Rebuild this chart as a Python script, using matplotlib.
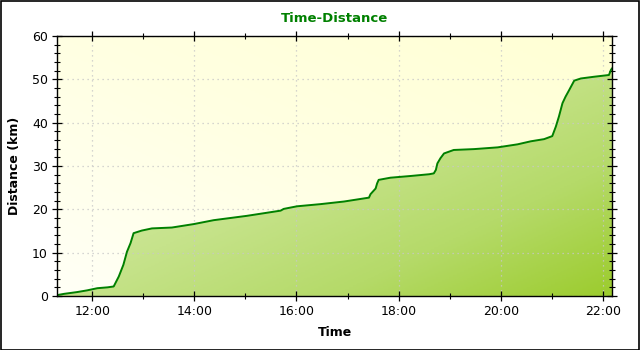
import numpy as np
import matplotlib
matplotlib.use("Agg")
import matplotlib.pyplot as plt
from matplotlib.colors import LinearSegmentedColormap
from matplotlib.patches import Rectangle
from matplotlib.ticker import MultipleLocator

# time in decimal hours, distance in km
hours = [11.31, 11.45, 11.70, 11.90, 12.10, 12.30, 12.42, 12.52, 12.61, 12.68,
         12.75, 12.81, 12.97, 13.17, 13.56, 13.99, 14.38, 15.03, 15.69, 15.75,
         16.01, 16.47, 16.93, 17.42, 17.45, 17.55, 17.58, 17.61, 17.84, 18.24,
         18.60, 18.69, 18.73, 18.76, 18.82, 18.89, 19.08, 19.48, 19.94, 20.33,
         20.59, 20.85, 21.01, 21.08, 21.14, 21.21, 21.27, 21.34, 21.44, 21.57,
         21.83, 22.12, 22.16, 22.18]
dist_km = [0.2, 0.5, 0.9, 1.3, 1.8, 2.0, 2.2, 4.5, 7.2, 10.2,
           12.2, 14.5, 15.1, 15.6, 15.8, 16.6, 17.5, 18.5, 19.7, 20.1,
           20.7, 21.2, 21.8, 22.7, 23.5, 24.8, 26.0, 26.8, 27.3, 27.7,
           28.1, 28.3, 29.1, 30.6, 31.8, 32.9, 33.7, 33.9, 34.3, 35.0,
           35.7, 36.2, 36.9, 39.1, 41.4, 44.5, 46.0, 47.5, 49.7, 50.2,
           50.6, 51.0, 52.2, 52.5]

x_ticks = [12, 14, 16, 18, 20, 22]
x_ticklabels = ["12:00", "14:00", "16:00", "18:00", "20:00", "22:00"]
y_ticks = [0, 10, 20, 30, 40, 50, 60]

x_min, x_max = 11.31, 22.18
y_min, y_max = 0, 60

fig = plt.figure(figsize=(6.4, 3.5), dpi=100, facecolor="white")
ax = fig.add_axes([57 / 640, 54 / 350, 555 / 640, 260 / 350])

# gradients along the corner-to-corner diagonal of the plot box
gx, gy = np.meshgrid(np.linspace(0, 1, 300), np.linspace(0, 1, 150))
diag_t = (gx + gy) / 2   # image row 0 is the top: 0 top-left -> 1 bottom-right

# background: near white bottom-left, light yellow top-right
bg_cmap = LinearSegmentedColormap.from_list("bg", ["#fffff6", "#ffffe2", "#ffffd4"])
ax.imshow(diag_t[::-1], cmap=bg_cmap, extent=[x_min, x_max, y_min, y_max],
          aspect="auto", zorder=0, vmin=0, vmax=1)

# area fill with green gradient, clipped to the area under the line
poly = ax.fill_between(hours, dist_km, 0, color="none", zorder=1)
fill_cmap = LinearSegmentedColormap.from_list(
    "fill", [(0.0, "#e6f3c8"), (0.5, "#c6e38b"), (0.75, "#b5da69"),
             (1.0, "#9ccc2e")])
im = ax.imshow(diag_t, cmap=fill_cmap, extent=[x_min, x_max, y_min, y_max],
               aspect="auto", zorder=1, vmin=0, vmax=1)
im.set_clip_path(poly.get_paths()[0], transform=ax.transData)

ax.plot(hours, dist_km, color="#008000", lw=1.4, zorder=3)

ax.set_xlim(x_min, x_max)
ax.set_ylim(y_min, y_max)
ax.set_xticks(x_ticks)
ax.set_xticklabels(x_ticklabels)
ax.set_yticks(y_ticks)
ax.xaxis.set_minor_locator(MultipleLocator(1))
ax.yaxis.set_minor_locator(MultipleLocator(2))

# dotted grid sits behind the filled area
ax.grid(True, which="major", color="#c8c8c8", linestyle=(0, (1, 3)), lw=0.9)
for gl in ax.get_xgridlines() + ax.get_ygridlines():
    gl.set_zorder(0.5)

ax.tick_params(which="major", direction="inout", length=7, width=0.9,
               top=True, right=True, labelsize=9, colors="black", pad=3)
ax.tick_params(which="minor", direction="inout", length=5, width=0.8,
               top=True, right=True)
for sp in ax.spines.values():
    sp.set_linewidth(1.0)
    sp.set_zorder(4)

ax.set_xlabel("Time", fontsize=9, fontweight="bold", labelpad=6)
ax.set_ylabel("Distance (km)", fontsize=9, fontweight="bold", labelpad=8)
ax.set_title("Time-Distance", fontsize=9.5, fontweight="bold", color="#008000", pad=10)

# thin black frame round the whole image
fig.patches.append(Rectangle((0.5 / 640, 0.5 / 350), 638.5 / 640, 348.5 / 350,
                             transform=fig.transFigure, fill=False,
                             edgecolor="black", lw=1.2))

fig.savefig("out.png", dpi=100)
